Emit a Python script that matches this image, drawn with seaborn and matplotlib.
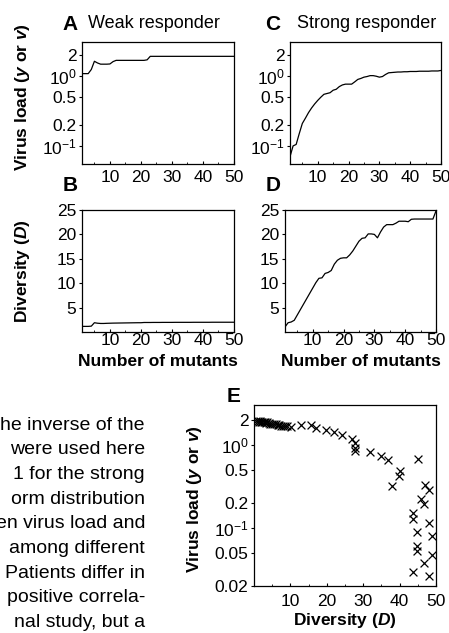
import numpy as np
import pandas as pd
import matplotlib
matplotlib.use('Agg')
import matplotlib.pyplot as plt
from matplotlib.ticker import FixedLocator, NullLocator, MultipleLocator
import seaborn as sns

sns.set_style('ticks')
plt.rcParams['font.family'] = ['Liberation Sans', 'DejaVu Sans']
plt.rcParams['mathtext.fontset'] = 'custom'
plt.rcParams['mathtext.rm'] = 'Liberation Sans'
plt.rcParams['mathtext.it'] = 'Liberation Sans:italic'
plt.rcParams['mathtext.bf'] = 'Liberation Sans:bold'
plt.rcParams['mathtext.bfit'] = 'Liberation Sans:bold:italic'
for key in ['text.color', 'axes.labelcolor', 'xtick.color', 'ytick.color', 'axes.edgecolor']:
    plt.rcParams[key] = 'black'

# number of mutants (x axis of panels A-D)
mutants = list(range(1, 51))

# A: weak responder, virus load
weak_load = [1.09, 1.09, 1.09, 1.25, 1.64, 1.55, 1.49, 1.49, 1.49, 1.50,
             1.62, 1.69, 1.69, 1.69, 1.69, 1.69, 1.69, 1.69, 1.69, 1.69,
             1.69, 1.72, 1.93, 1.93, 1.93, 1.93, 1.93, 1.93, 1.93, 1.93,
             1.93, 1.93, 1.93, 1.93, 1.93, 1.93, 1.93, 1.93, 1.93, 1.93,
             1.93, 1.93, 1.93, 1.93, 1.93, 1.93, 1.93, 1.93, 1.93, 1.93]

# B: weak responder, diversity
weak_div = [1.15, 1.15, 1.15, 1.2, 1.9, 1.8, 1.75, 1.75, 1.78, 1.8,
            1.82, 1.83, 1.84, 1.85, 1.86, 1.87, 1.88, 1.89, 1.9, 1.9,
            1.95, 1.95, 1.95, 1.96, 1.96, 1.96, 1.97, 1.97, 1.97, 1.97,
            1.98, 1.98, 1.98, 1.98, 1.98, 1.98, 1.99, 1.99, 1.99, 1.99,
            1.99, 1.99, 2.0, 2.0, 2.0, 2.0, 2.0, 2.0, 2.0, 2.0]

# C: strong responder, virus load
strong_load = [0.07, 0.10, 0.105, 0.15, 0.21, 0.25, 0.30, 0.35, 0.40, 0.45,
               0.50, 0.55, 0.565, 0.58, 0.63, 0.65, 0.71, 0.75, 0.77, 0.77,
               0.77, 0.83, 0.90, 0.93, 0.97, 0.99, 1.02, 1.02, 1.00, 0.97,
               0.99, 1.06, 1.12, 1.13, 1.14, 1.15, 1.15, 1.16, 1.16, 1.17,
               1.17, 1.17, 1.18, 1.18, 1.18, 1.18, 1.19, 1.19, 1.19, 1.21]

# D: strong responder, diversity
strong_div = [1.03, 1.9, 2.05, 2.4, 3.5, 4.6, 5.7, 6.8, 7.9, 9.0,
              10.1, 11.0, 11.1, 12.0, 12.2, 12.6, 13.9, 14.7, 15.1, 15.2,
              15.2, 15.8, 16.6, 17.6, 18.6, 19.2, 19.3, 20.1, 20.1, 20.0,
              19.3, 20.5, 21.5, 22.0, 22.0, 22.0, 22.3, 22.7, 22.7, 22.7,
              22.6, 23.1, 23.15, 23.15, 23.15, 23.15, 23.15, 23.15, 23.15, 24.8]

# E: diversity vs virus load across patients
e_div = [0.5, 1.0, 1.3, 1.6, 2.0, 2.3, 2.7, 3.0, 3.3, 3.7, 4.0, 4.5, 5.0, 5.5,
         6.0, 6.5, 7.0, 7.5, 8.0, 8.6, 9.0,
         10.2, 12.9, 15.7, 17.0, 19.8, 21.9, 24.1, 26.9, 27.8, 27.8, 27.8,
         32.0, 34.8, 36.9, 45.0, 40.1, 39.8, 38.0, 47.0, 48.0, 45.9, 46.8,
         43.7, 43.7, 48.0, 44.9, 49.0, 44.9, 44.9, 49.0, 46.8, 43.8, 48.0]
e_load = [1.95, 1.95, 1.9, 1.95, 1.9, 1.92, 1.88, 1.9, 1.85, 1.88, 1.85, 1.82,
          1.8, 1.8, 1.78, 1.75, 1.75, 1.72, 1.72, 1.7, 1.68,
          1.64, 1.75, 1.75, 1.59, 1.52, 1.43, 1.31, 1.2, 1.07, 0.92, 0.84,
          0.83, 0.75, 0.66, 0.675, 0.49, 0.42, 0.32, 0.335, 0.29, 0.225, 0.194,
          0.15, 0.128, 0.115, 0.0895, 0.08, 0.061, 0.0525, 0.047, 0.0375, 0.0295, 0.0267]

load_ticks = [0.1, 0.2, 0.5, 1, 2]
load_labels = ['$10^{-1}$', '0.2', '0.5', '$10^{0}$', '2']
e_ticks = [0.02, 0.05, 0.1, 0.2, 0.5, 1, 2]
e_labels = ['0.02', '0.05', '$10^{-1}$', '0.2', '0.5', '$10^{0}$', '2']
div_ticks = [5, 10, 15, 20, 25]
x_ticks = [10, 20, 30, 40, 50]

W, H = 449, 633
fig = plt.figure(figsize=(W / 100, H / 100), dpi=100)


def box(l, t, r, b):
    return fig.add_axes([l / W, 1 - b / H, (r - l) / W, (b - t) / H])


ax_a = box(82, 42, 234, 164)
ax_c = box(290, 42, 441, 164)
ax_b = box(82, 210, 234, 332)
ax_d = box(285, 210, 436, 332)
ax_e = box(254, 405, 436, 586)

curves = [(ax_a, weak_load), (ax_c, strong_load), (ax_b, weak_div), (ax_d, strong_div)]
for ax, vals in curves:
    df = pd.DataFrame({'x': mutants, 'y': vals})
    sns.lineplot(data=df, x='x', y='y', ax=ax, color='black', lw=0.9, estimator=None)

sns.scatterplot(x=e_div, y=e_load, ax=ax_e, marker='x', color='black', s=32, linewidth=0.9)

tick_fs = 12.5
lab_fs = 12.5
for ax in [ax_a, ax_b, ax_c, ax_d, ax_e]:
    for sp in ax.spines.values():
        sp.set_visible(True)
        sp.set_linewidth(0.9)
        sp.set_color('black')
    ax.set_xlabel('')
    ax.set_ylabel('')
    ax.tick_params(axis='y', direction='out', length=2, width=0.8, labelsize=tick_fs, pad=2)
    ax.tick_params(axis='x', which='major', direction='in', length=2.5, width=0.8, labelsize=tick_fs)
    ax.tick_params(axis='x', which='minor', direction='in', length=1.5, width=0.6)

for ax in [ax_a, ax_b, ax_c, ax_d]:
    ax.set_xlim(1, 50)
    ax.xaxis.set_major_locator(FixedLocator(x_ticks))
    ax.xaxis.set_minor_locator(MultipleLocator(5))

for ax in [ax_a, ax_c]:
    ax.set_yscale('log')
    ax.set_ylim(0.055, 3.1)
    ax.set_yticks(load_ticks)
    ax.set_yticklabels(load_labels)
    ax.yaxis.set_minor_locator(NullLocator())
    ax.tick_params(axis='x', pad=4)

for ax in [ax_b, ax_d]:
    ax.set_ylim(0, 25)
    ax.set_yticks(div_ticks)
    ax.tick_params(axis='x', pad=1)

ax_e.set_xlim(0, 50)
ax_e.set_yscale('log')
ax_e.set_ylim(0.02, 3.05)
ax_e.set_yticks(e_ticks)
ax_e.set_yticklabels(e_labels)
ax_e.yaxis.set_minor_locator(NullLocator())
ax_e.xaxis.set_major_locator(FixedLocator(x_ticks))
ax_e.xaxis.set_minor_locator(MultipleLocator(5))
ax_e.tick_params(axis='x', pad=6)

load_label = r'Virus load ($\mathbfit{y}$ or $\mathbfit{v}$)'
div_label = r'Diversity ($\mathbfit{D}$)'

ax_a.set_ylabel(load_label, fontsize=lab_fs, fontweight='bold', va='center')
ax_a.yaxis.set_label_coords((22 - 82) / 152, 0.55)
ax_b.set_ylabel(div_label, fontsize=lab_fs, fontweight='bold', va='center')
ax_b.yaxis.set_label_coords((22 - 82) / 152, 0.5)
ax_e.set_ylabel(load_label, fontsize=lab_fs, fontweight='bold', va='center')
ax_e.yaxis.set_label_coords((194 - 254) / 182, 0.48)

for ax in [ax_b, ax_d]:
    ax.set_xlabel('Number of mutants', fontsize=lab_fs, fontweight='bold', va='center')
    ax.xaxis.set_label_coords(0.5, (332 - 361) / 122)
ax_e.set_xlabel(div_label, fontsize=lab_fs, fontweight='bold', va='center')
ax_e.xaxis.set_label_coords(0.5, (586 - 621) / 181)


def ftext(x, y, s, **kw):
    fig.text(x / W, 1 - y / H, s, **kw)


# panel letters and titles
ftext(70, 24, 'A', fontsize=15, fontweight='heavy', ha='center', va='center')
ftext(88, 24, 'Weak responder', fontsize=13, ha='left', va='center')
ftext(273, 24, 'C', fontsize=15, fontweight='heavy', ha='center', va='center')
ftext(297, 24, 'Strong responder', fontsize=13, ha='left', va='center')
ftext(70, 186, 'B', fontsize=15, fontweight='heavy', ha='center', va='center')
ftext(273, 186, 'D', fontsize=15, fontweight='heavy', ha='center', va='center')
ftext(234, 397, 'E', fontsize=15, fontweight='heavy', ha='center', va='center')

# cropped body text to the left of panel E
para = ['he inverse of the', 'were used here', '1 for the strong',
        'orm distribution', 'en virus load and', 'among different',
        'Patients differ in', 'positive correla-', 'nal study, but a']
for i, line in enumerate(para):
    ftext(145, 425 + 24.7 * i, line, fontsize=14, ha='right', va='center')

fig.savefig('out.png', dpi=100)
